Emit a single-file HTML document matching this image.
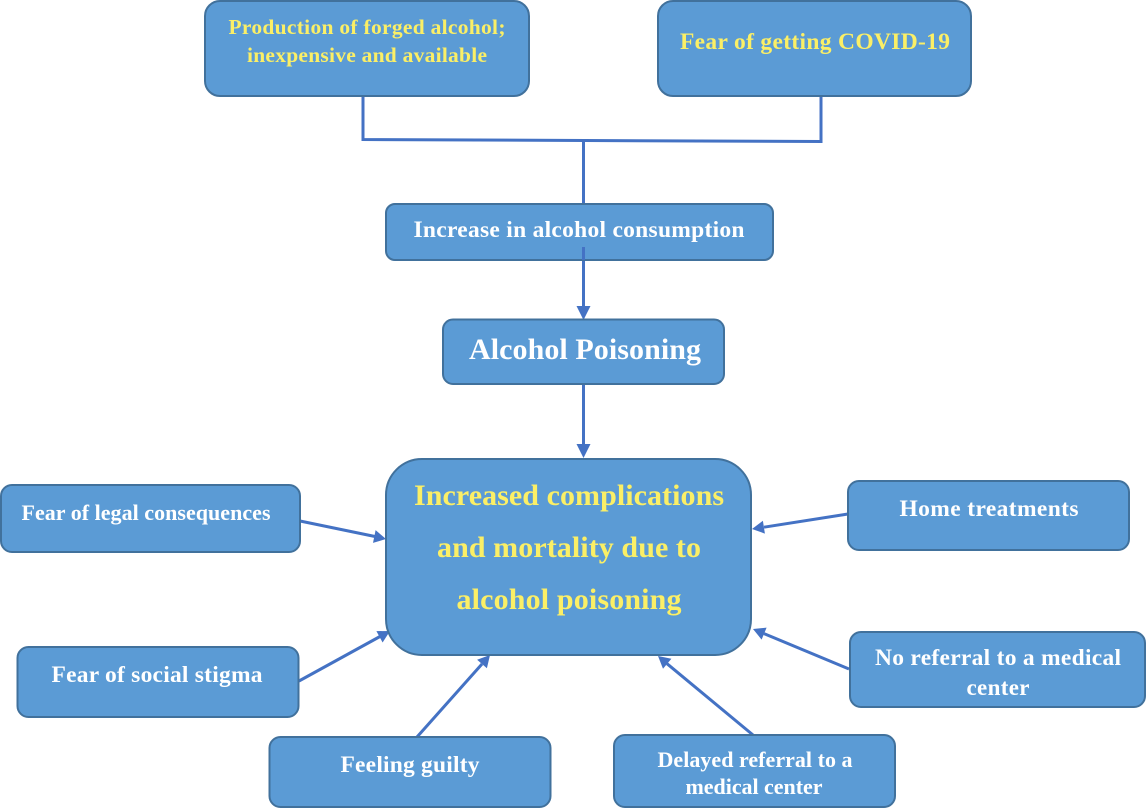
<!DOCTYPE html>
<html><head><meta charset="utf-8"><style>
html,body{margin:0;padding:0;background:#fff}
svg{display:block}
rect{fill:#5b9bd5;stroke:#41719c;stroke-width:2}
text{font-family:"Liberation Serif",serif;font-weight:bold;text-anchor:middle}
.w{fill:#fff}.y{fill:#fbef66}
line,polyline{stroke:#4472c4;stroke-width:3;fill:none}
polygon{fill:#4472c4}
</style></head><body>
<svg width="1146" height="808" viewBox="0 0 1146 808" xmlns="http://www.w3.org/2000/svg">
<polyline points="363,96 363,139.500 821,141.500 821,96"/>
<line x1="583.500" y1="140" x2="583.500" y2="204"/>
<line x1="583.500" y1="247" x2="583.500" y2="308"/>
<polygon points="576.500,306 590.500,306 583.500,320"/>
<line x1="583.500" y1="384" x2="583.500" y2="447"/>
<polygon points="576.500,444 590.500,444 583.500,458"/>
<line x1="300" y1="521" x2="375" y2="536.500"/>
<polygon points="386,539 373,542.900 375.600,530.100"/>
<line x1="299" y1="681" x2="380" y2="636.500"/>
<polygon points="390,631 382.600,642.500 376.400,631.100"/>
<line x1="417" y1="737" x2="482" y2="664"/>
<polygon points="490,655 486.900,668.300 477.100,659.700"/>
<line x1="753" y1="735" x2="667" y2="663.700"/>
<polygon points="658,656 671.400,658.700 663,668.700"/>
<line x1="849" y1="669" x2="764" y2="633.600"/>
<polygon points="753,629 766.600,627.600 761.600,639.600"/>
<line x1="848" y1="514" x2="764" y2="527.200"/>
<polygon points="752,529 764.900,533.600 762.900,520.800"/>
<rect x="205" y="1" width="324" height="95" rx="15"/>
<rect x="658" y="1" width="313" height="95" rx="15"/>
<rect x="386" y="204" width="387" height="56" rx="9"/>
<rect x="443" y="319.500" width="281" height="64.500" rx="10"/>
<rect x="386" y="459" width="365" height="196" rx="36"/>
<rect x="1" y="485" width="299" height="67" rx="11"/>
<rect x="17.500" y="647" width="281" height="70" rx="11"/>
<rect x="269.500" y="737" width="281" height="70" rx="11"/>
<rect x="614" y="735" width="281" height="72" rx="11"/>
<rect x="848" y="481" width="281" height="69" rx="11"/>
<rect x="850" y="632" width="295" height="75" rx="11"/>
<line x1="583.500" y1="247" x2="583.500" y2="260"/>
<text class="y" x="367" y="34" font-size="21.500" textLength="277" lengthAdjust="spacing">Production of forged alcohol;</text>
<text class="y" x="367" y="62" font-size="21.500" textLength="240" lengthAdjust="spacing">inexpensive and available</text>
<text class="y" x="815" y="49" font-size="23.500" textLength="270" lengthAdjust="spacing">Fear of getting COVID-19</text>
<text class="w" x="579" y="237" font-size="23.500" textLength="331" lengthAdjust="spacing">Increase in alcohol consumption</text>
<text class="w" x="585" y="359" font-size="30" textLength="232" lengthAdjust="spacing">Alcohol Poisoning</text>
<text class="y" x="569" y="505" font-size="30" textLength="310" lengthAdjust="spacing">Increased complications</text>
<text class="y" x="569" y="557" font-size="30" textLength="264" lengthAdjust="spacing">and mortality due to</text>
<text class="y" x="569" y="609" font-size="30" textLength="225" lengthAdjust="spacing">alcohol poisoning</text>
<text class="w" x="146" y="520" font-size="22" textLength="249" lengthAdjust="spacing">Fear of legal consequences</text>
<text class="w" x="157" y="682" font-size="23.500" textLength="211" lengthAdjust="spacing">Fear of social stigma</text>
<text class="w" x="410" y="772" font-size="23.500" textLength="139" lengthAdjust="spacing">Feeling guilty</text>
<text class="w" x="755" y="767" font-size="22" textLength="195" lengthAdjust="spacing">Delayed referral to a</text>
<text class="w" x="754" y="794" font-size="22" textLength="137" lengthAdjust="spacing">medical center</text>
<text class="w" x="989" y="516" font-size="23.500" textLength="179" lengthAdjust="spacing">Home treatments</text>
<text class="w" x="998" y="665" font-size="23.500" textLength="246" lengthAdjust="spacing">No referral to a medical</text>
<text class="w" x="998" y="695" font-size="23" textLength="63" lengthAdjust="spacing">center</text>
</svg>
</body></html>
